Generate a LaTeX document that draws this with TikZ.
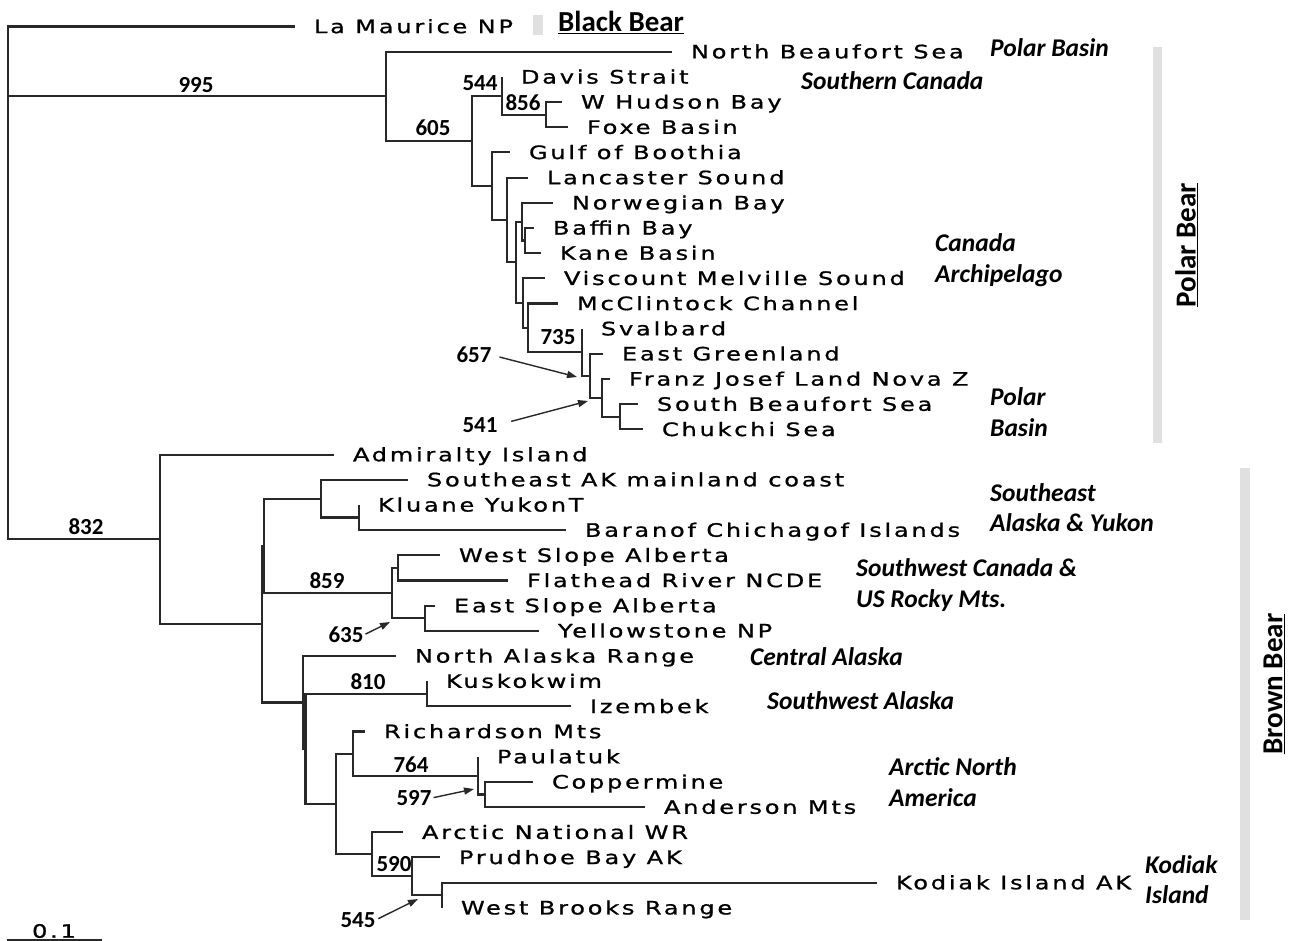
\documentclass[tikz,border=0pt]{standalone}
\usepackage{fontspec}
\usetikzlibrary{arrows.meta}
\newfontfamily\leaffont[FakeStretch=1.3,LetterSpace=15,FakeBold=1]{DejaVu Sans}
\newfontfamily\calfont{Carlito}
\newfontfamily\calbold{Carlito Bold}
\newfontfamily\calbi{Carlito Bold Italic}
\definecolor{barg}{RGB}{224,224,224}
\definecolor{treeline}{RGB}{40,40,40}
\tikzset{
  br/.style={line width=2.1pt, draw=treeline},
  leaf/.style={anchor=west, inner sep=0pt, outer xsep=19pt, text height=13.3pt, text depth=0pt,
    font=\leaffont\fontsize{18.5pt}{22pt}\selectfont},
  boot/.style={inner sep=0pt, text height=14.5pt, text depth=0pt,
    font=\calbold\fontsize{23pt}{27pt}\selectfont},
  region/.style={anchor=west, inner sep=0pt, text height=16.4pt, text depth=0pt,
    font=\calbi\fontsize{25.5pt}{30pt}\selectfont},
  species/.style={inner sep=0pt, font=\calbold\fontsize{29pt}{34pt}\selectfont},
  bar/.style={fill=barg, draw=none},
  arr/.style={-{Triangle[length=10pt,width=7pt]}, line width=1.4pt, draw=treeline, fill=treeline}
}
\begin{document}
\begin{tikzpicture}[x=1pt,y=-1pt]
\useasboundingbox (0,0) rectangle (1296,941);
\fill[white] (0,0) rectangle (1296,941);
% ---------- leaves ----------
\node[leaf] (lm) at (295,26.5) {La Maurice NP};
\node[leaf] (nbs) at (672,51.7) {North Beaufort Sea};
\node[leaf] (davis) at (502,76.9) {Davis Strait};
\node[leaf] (whb) at (562,102.0) {W Hudson Bay};
\node[leaf] (foxe) at (568,127.2) {Foxe Basin};
\node[leaf] (gulf) at (510,152.4) {Gulf of Boothia};
\node[leaf] (lanc) at (528,177.6) {Lancaster Sound};
\node[leaf] (norw) at (553,202.8) {Norwegian Bay};
\node[leaf] (baff) at (534,227.9) {Baffin Bay};
\node[leaf] (kane) at (541,253.1) {Kane Basin};
\node[leaf] (visc) at (545,278.3) {Viscount Melville Sound};
\node[leaf] (mccl) at (558,303.5) {McClintock Channel};
\node[leaf] (sval) at (582,328.7) {Svalbard};
\node[leaf] (egr) at (603,353.8) {East Greenland};
\node[leaf] (franz) at (610,379.0) {Franz Josef Land Nova Z};
\node[leaf] (sbs) at (638,404.2) {South Beaufort Sea};
\node[leaf] (chuk) at (643,429.4) {Chukchi Sea};
\node[leaf] (adm) at (334,454.6) {Admiralty Island};
\node[leaf] (seak) at (408,479.7) {Southeast AK mainland coast};
\node[leaf] (klu) at (359,504.9) {Kluane YukonT};
\node[leaf] (bar) at (566,530.1) {Baranof Chichagof Islands};
\node[leaf] (wsa) at (440,555.3) {West Slope Alberta};
\node[leaf] (flat) at (508,580.5) {Flathead River NCDE};
\node[leaf] (esa) at (435,605.6) {East Slope Alberta};
\node[leaf] (yell) at (539,630.8) {Yellowstone NP};
\node[leaf] (nar) at (396,656.0) {North Alaska Range};
\node[leaf] (kusk) at (427,681.2) {Kuskokwim};
\node[leaf] (izem) at (571,706.4) {Izembek};
\node[leaf] (rich) at (365,731.5) {Richardson Mts};
\node[leaf] (paul) at (478,756.7) {Paulatuk};
\node[leaf] (copp) at (533,781.9) {Coppermine};
\node[leaf] (ande) at (645,807.1) {Anderson Mts};
\node[leaf] (anwr) at (403,832.3) {Arctic National WR};
\node[leaf] (prud) at (440,857.4) {Prudhoe Bay AK};
\node[leaf] (kodi) at (877,882.6) {Kodiak Island AK};
\node[leaf] (wbr) at (442,907.8) {West Brooks Range};
% ---------- internal nodes ----------
\coordinate (root) at (8,96.4);
\coordinate (n995) at (386,96.4);
\coordinate (n605) at (472,141.0);
\coordinate (n544) at (502,95.8);
\coordinate (n856) at (546,114.6);
\coordinate (ng) at (492,186.2);
\coordinate (nl) at (507,220.0);
\coordinate (nm) at (516,262.4);
\coordinate (nn) at (522,221.7);
\coordinate (nbk) at (525,240.5);
\coordinate (nv) at (523,303.1);
\coordinate (nmc) at (528,327.9);
\coordinate (n735) at (582,352.3);
\coordinate (n657) at (590,375.9);
\coordinate (n541) at (602,397.9);
\coordinate (nsc) at (620,416.8);
\coordinate (n832) at (160,539.4);
\coordinate (nb0) at (262,624.2);
\coordinate (nb1) at (264.2,545.9);
\coordinate (nse) at (321,498.6);
\coordinate (nk) at (359,517.5);
\coordinate (n859) at (392,593.1);
\coordinate (nwf) at (398,567.9);
\coordinate (ney) at (425,618.2);
\coordinate (nb2) at (303,702.5);
\coordinate (nb3) at (305.5,748.9);
\coordinate (n810) at (427,693.8);
\coordinate (nb4) at (336,804.0);
\coordinate (nr) at (353,753.6);
\coordinate (n764) at (478,775.6);
\coordinate (n597) at (485,794.5);
\coordinate (na) at (372,854.3);
\coordinate (n590) at (412,876.3);
\coordinate (n545) at (442,895.2);
% ---------- branches ----------
\foreach \p/\c in {root/lm.west, root/n995, root/n832,
  n995/nbs.west, n995/n605, n605/n544, n605/ng, n544/davis.west, n544/n856,
  n856/whb.west, n856/foxe.west, ng/gulf.west, ng/nl, nl/lanc.west, nl/nm,
  nm/nn, nm/nv, nn/norw.west, nn/nbk, nbk/baff.west, nbk/kane.west,
  nv/visc.west, nv/nmc, nmc/mccl.west, nmc/n735, n735/sval.west, n735/n657,
  n657/egr.west, n657/n541, n541/franz.west, n541/nsc, nsc/sbs.west, nsc/chuk.west,
  n832/adm.west, n832/nb0, nb0/nb1, nb0/nb2, nb1/nse, nb1/n859,
  nse/seak.west, nse/nk, nk/klu.west, nk/bar.west,
  n859/nwf, n859/ney, nwf/wsa.west, nwf/flat.west, ney/esa.west, ney/yell.west,
  nb2/nar.west, nb2/nb3, nb3/n810, nb3/nb4, n810/kusk.west, n810/izem.west,
  nb4/nr, nb4/na, nr/rich.west, nr/n764, n764/paul.west, n764/n597,
  n597/copp.west, n597/ande.west, na/anwr.west, na/n590,
  n590/prud.west, n590/n545, n545/kodi.west, n545/wbr.west}
  \draw[br] (\p) |- (\c);
% ---------- bootstrap values ----------
\node[boot] (b995) at (196,85) {995};
\node[boot] (b605) at (433,128) {605};
\node[boot] (b544) at (480,83) {544};
\node[boot] (b856) at (523,103) {856};
\node[boot] (b735) at (558,337) {735};
\node[boot] (b657) at (474,355) {657};
\node[boot] (b541) at (480,425) {541};
\node[boot] (b832) at (86,527) {832};
\node[boot] (b859) at (327,581) {859};
\node[boot] (b635) at (346,635) {635};
\node[boot] (b810) at (368,682) {810};
\node[boot] (b764) at (411,765) {764};
\node[boot] (b597) at (414,798) {597};
\node[boot] (b590) at (394,864) {590};
\node[boot] (b545) at (358,920) {545};
\coordinate (t657) at (577,377);
\coordinate (t541) at (588,401);
\coordinate (t635) at (390,622);
\coordinate (t597) at (474,789);
\coordinate (t545) at (418,899);
\draw[arr, shorten <=8pt] (b657.east) -- (t657);
\draw[arr, shorten <=14pt] (b541.east) -- (t541);
\draw[arr, shorten <=2pt] (b635.east) -- (t635);
\draw[arr, shorten <=2pt] (b597.east) -- (t597);
\draw[arr, shorten <=3pt] (b545.east) -- (t545);
% ---------- region labels ----------
\node[region] (rpb1) at (990,48) {Polar Basin};
\node[region] (rsc) at (801,81) {Southern Canada};
\node[region] (rca1) at (935,243) {Canada};
\node[region] (rca2) at (935,274) {Archipelago};
\node[region] (rpb2) at (990,397) {Polar};
\node[region] (rpb3) at (990,428) {Basin};
\node[region] (rse1) at (990,493) {Southeast};
\node[region] (rse2) at (990,523) {Alaska \& Yukon};
\node[region] (rsw1) at (856,568) {Southwest Canada \&};
\node[region] (rsw2) at (856,599) {US Rocky Mts.};
\node[region] (rcen) at (750,657) {Central Alaska};
\node[region] (rswa) at (767,701) {Southwest Alaska};
\node[region] (ran1) at (889,767) {Arctic North};
\node[region] (ran2) at (889,798) {America};
\node[region] (rko1) at (1145,865) {Kodiak};
\node[region] (rko2) at (1145,895) {Island};
% ---------- species bars ----------
\fill[bar] (533,15) rectangle (543,35);
\node[species, anchor=base west] (sblack) at (558,32) {\underline{Black Bear}};
\fill[bar] (1153,47) rectangle (1162,443);
\node[species, rotate=90] (spolar) at (1186.5,245) {\underline{Polar Bear}};
\fill[bar] (1240,468) rectangle (1250,920);
\node[species, rotate=90] (sbrown) at (1274,684) {\underline{Brown Bear}};
% ---------- scale bar ----------
\node[inner sep=0pt, font=\leaffont\fontsize{18.5pt}{22pt}\selectfont] (scl) at (54,931) {0.1};
\coordinate (sclA) at (7,940);
\coordinate (sclB) at (102,940);
\draw[line width=1.5pt, draw=treeline] (sclA) -- (sclB);
\end{tikzpicture}
\end{document}
